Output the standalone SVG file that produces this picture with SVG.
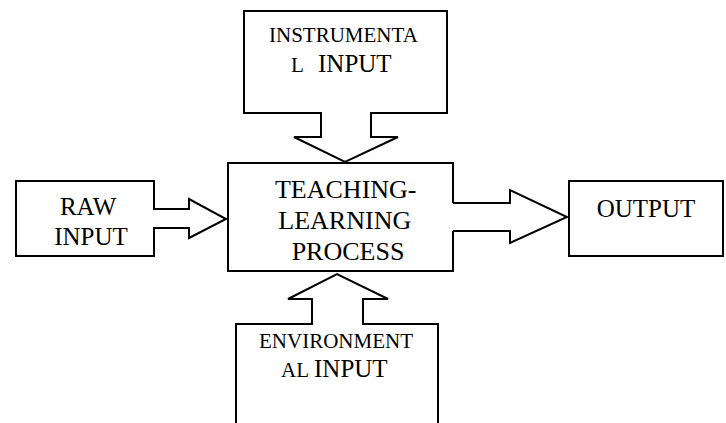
<svg xmlns="http://www.w3.org/2000/svg" width="726" height="423" viewBox="0 0 726 423">
  <style>
    .shape { fill: #ffffff; stroke: #000000; stroke-width: 2; stroke-linejoin: miter; }
    .open { fill: none; stroke: #000000; stroke-width: 2; }
    text { font-family: "Liberation Serif", "Times New Roman", serif; fill: #000000; }
    .big { font-size: 25px; }
    .mid { font-size: 26px; }
    .small { font-size: 21px; }
  </style>
  <rect width="726" height="423" fill="#ffffff"/>

  <!-- central process box (right side opens into the output arrow) -->
  <g id="process">
    <path class="open" d="M453,203 V163 H228 V271 H453 V231"/>
    <text class="mid" text-anchor="middle">
      <tspan x="349" y="198">TEACHING-</tspan>
      <tspan x="348" y="229">LEARNING</tspan>
      <tspan x="348" y="260">PROCESS</tspan>
    </text>
  </g>

  <!-- instrumental input callout, pointing down -->
  <g id="instrumental-input">
    <path class="shape" d="M244,11 H447 V113 H371 V137 H398 L345,162 L294,137 H321 V113 H244 Z"/>
    <text class="small" x="269" y="42">INSTRUMENTA</text>
    <text y="72"><tspan class="small" x="291">L</tspan><tspan class="big" x="318">INPUT</tspan></text>
  </g>

  <!-- raw input callout, pointing right -->
  <g id="raw-input">
    <path class="shape" d="M16,181 H154 V209 H189 V199 L226,219 L189,238 V228 H154 V256 H16 Z"/>
    <text class="big" text-anchor="middle">
      <tspan x="91" y="215">RAW</tspan>
      <tspan x="91" y="245">INPUT</tspan>
    </text>
  </g>

  <!-- environmental input callout, pointing up, running off the bottom -->
  <g id="environmental-input">
    <path class="open" d="M236,424 V324 H312 V299 H288 L337,274 L388,299 H363 V324 H438 V424"/>
    <text class="small" x="259" y="348">ENVIRONMENT</text>
    <text y="377"><tspan class="small" x="281">AL</tspan><tspan class="big" x="314">INPUT</tspan></text>
  </g>

  <!-- output box -->
  <g id="output">
    <rect class="shape" x="569" y="181" width="154" height="75"/>
    <text class="big" x="646" y="217" text-anchor="middle">OUTPUT</text>
  </g>

  <!-- connector from process to output -->
  <g id="connectors">
    <path class="open" d="M453,203 H510 V190 L567,217 L510,243 V231 H453"/>
  </g>
</svg>
